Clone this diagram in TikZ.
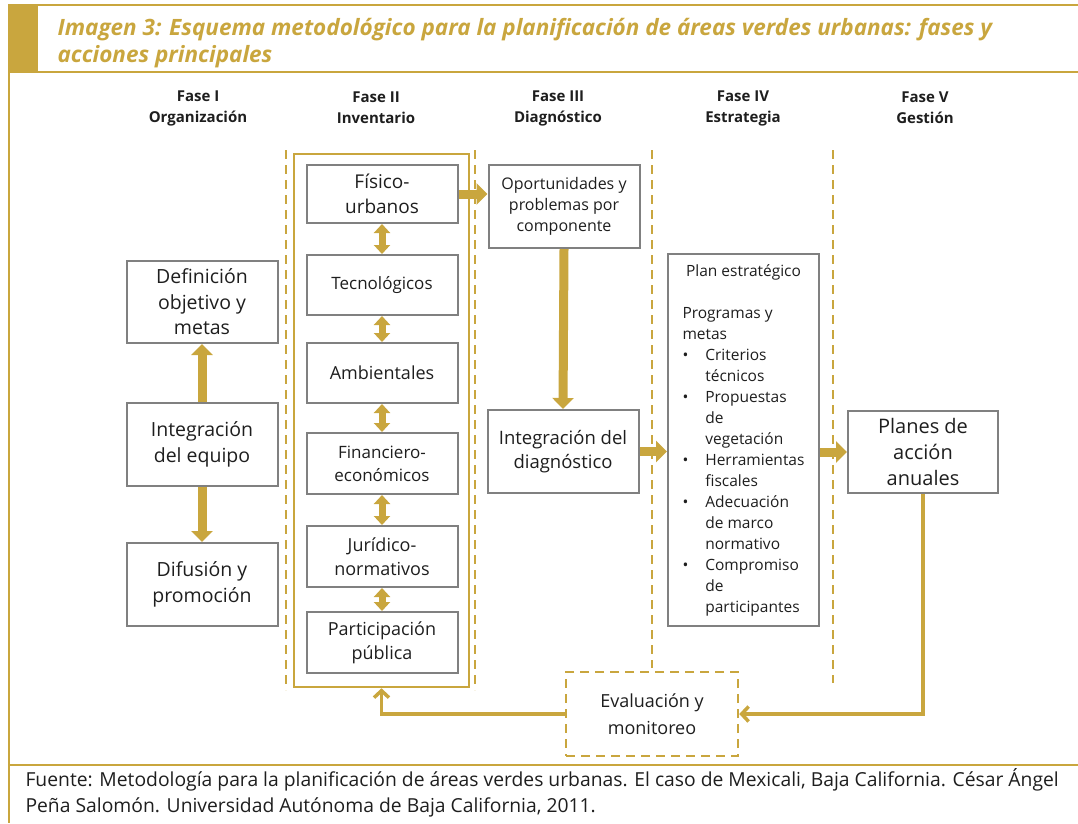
\documentclass[tikz,border=0pt]{standalone}
\usepackage{fontspec}
\setmainfont{Open Sans}
\usetikzlibrary{arrows.meta}
\definecolor{oro}{RGB}{201,166,62}
\definecolor{gris}{RGB}{128,128,128}
\definecolor{tinta}{RGB}{30,30,30}
\begin{document}
\begin{tikzpicture}[x=1pt, y=-1pt, text=tinta,
    caja/.style={draw=gris, line width=2pt, align=center, minimum width=151pt, inner sep=2pt, font=\fontsize{18}{24}\selectfont},
    flecha/.style={oro, line width=9pt, -{Triangle[width=21pt,length=11pt]}},
    doble/.style={oro, line width=7pt, {Triangle[width=16pt,length=9pt]}-{Triangle[width=16pt,length=9pt]}},
    retorno/.style={oro, line width=3.5pt, -{Straight Barb[width=15pt,length=7pt]}},
    division/.style={oro, line width=2.5pt, dash pattern=on 9pt off 6pt},
    fase/.style={font=\fontsize{15}{21}\selectfont\bfseries, align=center}]
    \useasboundingbox (0,0) rectangle (1078,823);

    % marco y titulo
    \fill [oro] (8,5) rectangle (38,72);
    \draw [oro, line width=2pt] (8,5) -- (1078,5);
    \draw [oro, line width=2pt] (8,72) -- (1078,72);
    \draw [oro, line width=2pt] (9,5) -- (9,823);
    \draw [oro, line width=2pt] (9,765) -- (1078,765);
    \node [anchor=base west, oro, font=\fontsize{22.5}{27}\selectfont\bfseries\itshape, align=left] (titulo) at (54,62)
        {Imagen 3: Esquema metodológico para la planificación de áreas verdes urbanas: fases y\\acciones principales};

    % fases
    \node [fase] (f1) at (198,108) {Fase I\\Organización};
    \node [fase] (f2) at (376,108) {Fase II\\Inventario};
    \node [fase] (f3) at (558,108) {Fase III\\Diagnóstico};
    \node [fase] (f4) at (743,108) {Fase IV\\Estrategia};
    \node [fase] (f5) at (925,108) {Fase V\\Gestión};
    \foreach \x/\y in {286/690, 475/690, 652/668, 833/683}
        \draw [division] (\x,150) -- (\x,\y);

    % Fase I
    \node [caja, minimum height=82pt, font=\fontsize{19.5}{25.5}\selectfont] (def) at (202,302) {Definición\\objetivo y\\metas};
    \node [caja, minimum height=83pt, font=\fontsize{19.5}{25.5}\selectfont] (integ) at (202,444.5) {Integración\\del equipo};
    \node [caja, minimum height=83pt, font=\fontsize{19.5}{25.5}\selectfont] (difu) at (202,584.5) {Difusión y\\promoción};
    \draw [flecha] (integ.north) -- (def.south);
    \draw [flecha] (integ.south) -- (difu.north);

    % Fase II
    \node [draw=oro, line width=2.5pt, minimum width=175pt, minimum height=533pt] (inv) at (381.5,420.5) {};
    \node [caja, minimum height=58pt, font=\fontsize{19}{25}\selectfont] (fis) at (382,194) {Físico-\\urbanos};
    \node [caja, minimum height=60pt, font=\fontsize{17}{22}\selectfont] (tec) at (382,285) {Tecnológicos};
    \node [caja, minimum height=60pt] (amb) at (382,373) {Ambientales};
    \node [caja, minimum height=61pt, font=\fontsize{17}{23}\selectfont] (fin) at (382,463.5) {Financiero-\\económicos};
    \node [caja, minimum height=61pt] (jur) at (382,556.5) {Jurídico-\\normativos};
    \node [caja, minimum height=61pt] (par) at (382,642.5) {Participación\\pública};
    \draw [doble] (fis) -- (tec);
    \draw [doble] (tec) -- (amb);
    \draw [doble] (amb) -- (fin);
    \draw [doble] (fin) -- (jur);
    \draw [doble] (jur) -- (par);

    % Fase III
    \node [caja, minimum height=83pt, font=\fontsize{16}{21}\selectfont] (opor) at (564,206.5) {Oportunidades y\\problemas por\\componente};
    \node [caja, minimum height=83pt, font=\fontsize{18.5}{24}\selectfont] (idiag) at (563,451.5) {Integración del\\diagnóstico};
    \draw [flecha] (fis.east) -- (opor.west |- fis.east);
    \draw [flecha] (opor.south) -- (idiag.north);

    % Fase IV
    \node [caja, minimum height=372pt, font=\fontsize{15.5}{21}\selectfont] (plan) at (743.5,440) {%
        \begin{tabular}{@{}l@{\hspace{17pt}}l@{}}
        \multicolumn{2}{@{}c@{}}{Plan estratégico}\\
        \\
        \multicolumn{2}{@{}l@{}}{Programas y}\\
        \multicolumn{2}{@{}l@{}}{metas}\\
        \textbullet & Criterios\\
                    & técnicos\\
        \textbullet & Propuestas\\
                    & de\\
                    & vegetación\\
        \textbullet & Herramientas\\
                    & fiscales\\
        \textbullet & Adecuación\\
                    & de marco\\
                    & normativo\\
        \textbullet & Compromiso\\
                    & de\\
                    & participantes
        \end{tabular}};
    \draw [flecha] (idiag.east) -- (idiag.east -| plan.west);

    % Fase V
    \node [caja, minimum width=150pt, minimum height=82pt, font=\fontsize{20}{26}\selectfont] (planes) at (923,452) {Planes de\\acción\\anuales};
    \draw [flecha] (plan.east |- planes.west) -- (planes.west);

    % evaluacion
    \node [draw=oro, line width=2.5pt, dash pattern=on 9pt off 6pt, minimum width=172pt, minimum height=84pt,
        align=center, font=\fontsize{18}{27}\selectfont] (eval) at (652,714) {Evaluación y\\monitoreo};
    \draw [retorno] (planes.south) |- (eval.east);
    \draw [retorno] (eval.west) -| (inv.south);

    % fuente
    \node [anchor=base west, align=left, font=\fontsize{19.3}{26}\selectfont] (fuente) at (22,812)
        {Fuente: Metodología para la planificación de áreas verdes urbanas. El caso de Mexicali, Baja California. César Ángel\\Peña Salomón. Universidad Autónoma de Baja California, 2011.};
\end{tikzpicture}
\end{document}
